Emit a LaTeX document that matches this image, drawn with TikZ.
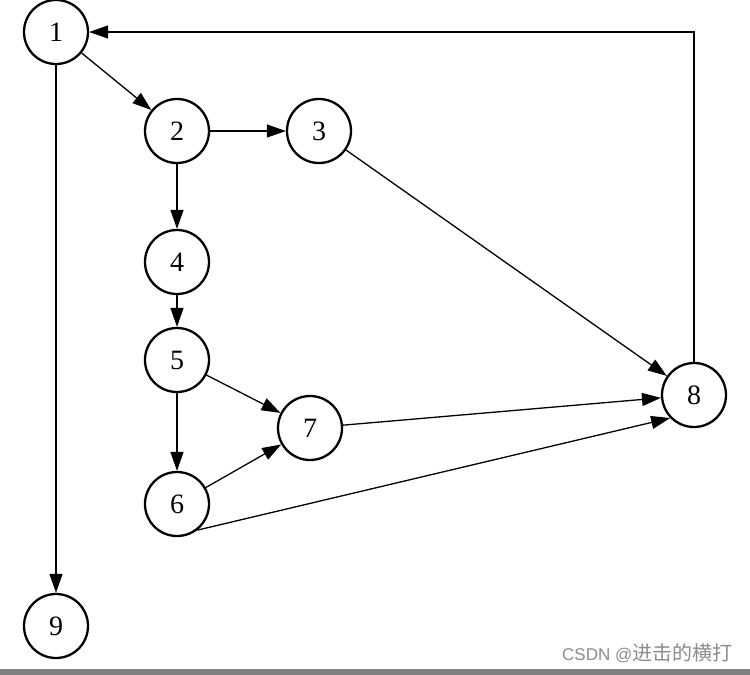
\documentclass[tikz,border=0pt]{standalone}
\usepackage{fontspec}
\setmainfont{Liberation Serif}
\newfontfamily\wmlatin{Liberation Sans}
\newfontfamily\wmcjk{Noto Sans CJK SC}
\usetikzlibrary{arrows.meta}
\begin{document}
\begin{tikzpicture}[x=1pt,y=-1pt,
  vnode/.style={circle,draw,line width=2.3pt,minimum size=64pt,inner sep=0pt,font=\fontsize{28}{28}\selectfont},
  edge/.style={line width=1.3pt,-{Triangle[length=19pt,width=13pt]}}]
\useasboundingbox (0,0) rectangle (750,675);
\fill[white] (0,0) rectangle (750,675);
\fill[black!50] (0,669) rectangle (750,675);
\node[vnode] (n1) at (56,32) {1};
\node[vnode] (n2) at (177,131) {2};
\node[vnode] (n3) at (319,131) {3};
\node[vnode] (n4) at (177,262) {4};
\node[vnode] (n5) at (177,360) {5};
\node[vnode] (n6) at (177,504) {6};
\node[vnode] (n7) at (310,428) {7};
\node[vnode] (n8) at (694,395) {8};
\node[vnode] (n9) at (56,626) {9};
\draw[edge] (n1) -- (n2);
\draw[edge] (n1) -- (n9);
\draw[edge] (n2) -- (n3);
\draw[edge] (n2) -- (n4);
\draw[edge] (n3) -- (n8);
\draw[edge] (n4) -- (n5);
\draw[edge] (n5) -- (n7);
\draw[edge] (n5) -- (n6);
\draw[edge] (n6) -- (n7);
\draw[edge] (n6.-52) -- (n8.-136);
\draw[edge] (n7) -- (n8);
\draw[edge] (n8.north) |- (n1.east);
\node[anchor=base west,text=black!45,inner sep=0pt] (wm) at (562,660)
  {{\wmlatin\fontsize{17}{17}\selectfont CSDN @}{\wmcjk\fontsize{20}{20}\selectfont 进击的横打}};
\end{tikzpicture}
\end{document}
